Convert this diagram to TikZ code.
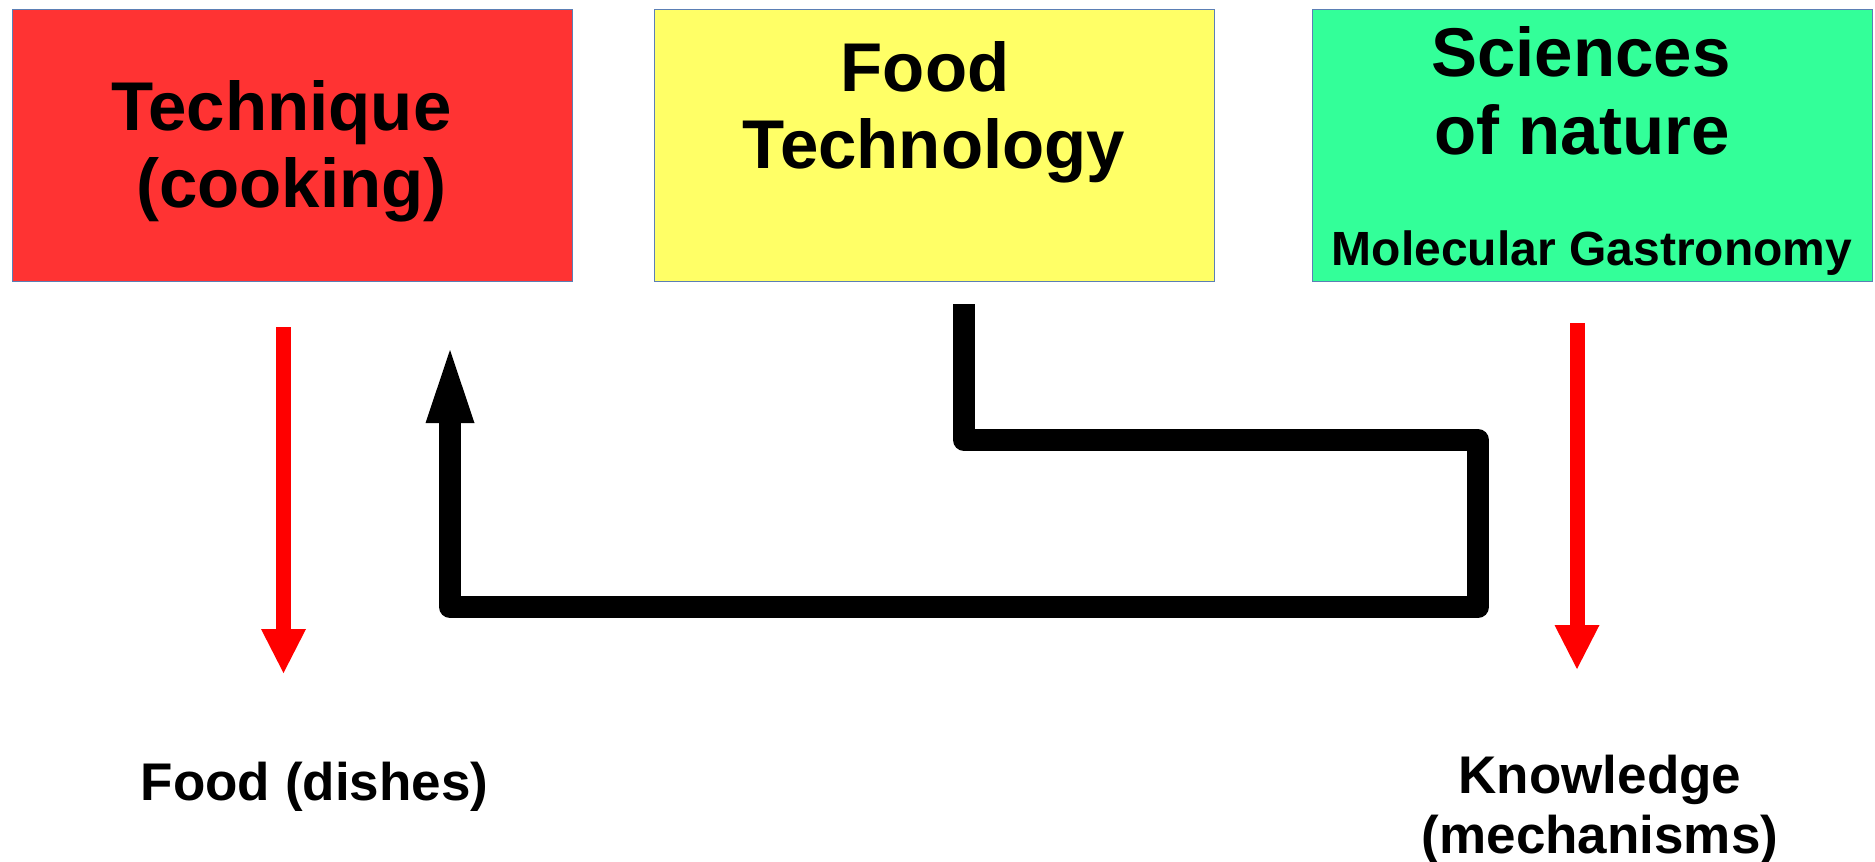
\documentclass[tikz,border=0pt]{standalone}
\usepackage{fontspec}
\setmainfont{Liberation Sans}
\usetikzlibrary{arrows.meta}
\definecolor{boxred}{HTML}{FF3333}
\definecolor{boxyellow}{HTML}{FFFF66}
\definecolor{boxgreen}{HTML}{33FF99}
\definecolor{boxline}{HTML}{5B7FB5}
\definecolor{arrred}{HTML}{FF0000}
\begin{document}
\begin{tikzpicture}[x=1pt,y=-1pt,
  box/.style={draw=boxline, line width=0.9pt, inner sep=0pt, anchor=north west,
              minimum width=560pt, minimum height=272pt},
  bigtxt/.style={font=\fontsize{69}{77}\selectfont\bfseries, inner sep=0pt, anchor=base},
  midtxt/.style={font=\fontsize{53}{60}\selectfont\bfseries, inner sep=0pt, anchor=base},
  smalltxt/.style={font=\fontsize{48}{54}\selectfont\bfseries, inner sep=0pt, anchor=base},
  redarrow/.style={draw=arrred, line width=15pt, -{Triangle[width=45pt,length=44pt,line width=0pt]}, arrred},
  blackarrow/.style={draw=black, line width=22pt, line join=round, -{Triangle[width=49pt,length=73pt,line width=0pt]}}]
\useasboundingbox (0,0) rectangle (1875,862);
\fill[white] (0,0) rectangle (1875,862);
% boxes
\node[box, fill=boxred] (tech) at (12,9) {};
\node[box, fill=boxyellow] (ftech) at (654,9) {};
\node[box, fill=boxgreen] (sci) at (1312,9) {};
% titles
\node[bigtxt] (t1) at (281.5,130) {Technique};
\node[bigtxt] (t2) at (291.5,207) {(cooking)};
\node[bigtxt] (f1) at (925,91) {Food};
\node[bigtxt] (f2) at (934,168) {Technology};
\node[bigtxt] (s1) at (1581,76) {Sciences};
\node[bigtxt] (s2) at (1582,154) {of nature};
\node[smalltxt] (s3) at (1592,265) {Molecular Gastronomy};
% bottom labels
\node[midtxt] (food) at (314.5,800) {Food (dishes)};
\node[midtxt] (know1) at (1600,793) {Knowledge};
\node[midtxt] (know2) at (1600,853) {(mechanisms)};
% red arrows
\coordinate (r1s) at (283.5,327);
\coordinate (r1e) at (283.5,673);
\coordinate (r2s) at (1577,323);
\coordinate (r2e) at (1577,669);
\draw[redarrow] (r1s) -- (r1e);
\draw[redarrow] (r2s) -- (r2e);
% black feedback path
\coordinate (b0) at (964,304);
\coordinate (b1) at (964,440);
\coordinate (b2) at (1478,440);
\coordinate (b3) at (1478,607);
\coordinate (b4) at (450,607);
\coordinate (b5) at (450,350);
\draw[blackarrow] (b0) -- (b1) -- (b2) -- (b3) -- (b4) -- (b5);
\end{tikzpicture}
\end{document}
